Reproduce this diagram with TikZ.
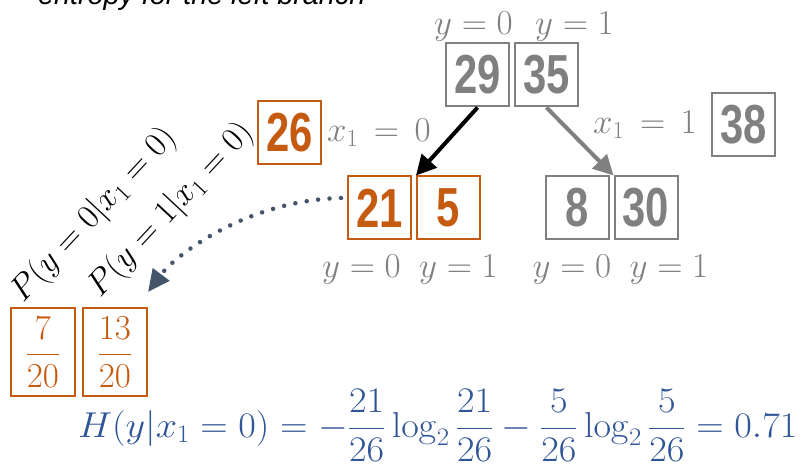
\documentclass[tikz,border=0pt]{standalone}
\usepackage{fix-cm}
\usepackage{amsmath}
\usepackage{graphicx}
\usepackage[no-math]{fontspec}
\newfontfamily\numfont[FakeStretch=0.76]{Liberation Sans}
\newfontfamily\capfont{Liberation Sans}
\usetikzlibrary{positioning,arrows.meta}
\definecolor{splitorange}{HTML}{C55A11}
\definecolor{splitgray}{HTML}{808080}
\definecolor{formulablue}{HTML}{2F5597}
\definecolor{dotslate}{HTML}{44546A}

\begin{document}
\begin{tikzpicture}[
    x=1pt, y=1pt,
    numbox/.style={rectangle, draw, line width=2pt, minimum size=63pt, inner sep=0pt, font={\fontsize{55}{60}\selectfont\numfont\bfseries}},
    leftbox/.style={numbox, draw=splitorange, text=splitorange},
    graybox/.style={numbox, draw=splitgray, text=splitgray},
    ylab/.style={inner sep=0pt, text=splitgray, font={\fontsize{35}{40}\selectfont}},
    probbox/.style={rectangle, draw=splitorange, text=splitorange, line width=2pt, minimum width=64pt, minimum height=88pt, inner sep=0pt, font={\fontsize{35}{40}\selectfont}},
    plab/.style={rotate=47, inner sep=0pt, font={\fontsize{34}{40}\selectfont}},
    splitarrow/.style={line width=4pt, -{Triangle[length=20pt,width=20pt]}},
    dotarrow/.style={dotslate, line width=4.5pt, line cap=round, dash pattern=on 0pt off 11.5pt, -{Triangle[length=22pt,width=20pt]}}
]
\useasboundingbox (0,0) rectangle (801,-465);
\clip (0,0) rectangle (801,-465);

% caption, cut at the top
\node (caption) [anchor=base west, inner sep=0pt, font={\fontsize{28.7}{32}\selectfont\capfont\itshape}] at (38,-5) {entropy for the left branch};

% root
\node (n29) [graybox] at (477.5,-75) {29};
\node (n35) [graybox, right=4pt of n29] {35};
\node (r0) [ylab, above=1pt of n29, xshift=-4pt] {$y=0$};
\node (r1) [ylab, above=1pt of n35, xshift=28pt] {$y=1$};

% left branch
\node (n26) [leftbox] at (289.5,-132.5) {26};
\node (bx0) [ylab, right=5pt of n26] {$x_1\,=\,0$};
\node (n21) [leftbox] at (379.5,-208) {21};
\node (n5) [leftbox, right=4pt of n21] {5};
\node (l0) [ylab, below=14pt of n21, xshift=-18pt] {$y=0$};
\node (l1) [ylab, below=14pt of n5, xshift=10pt] {$y=1$};

% right branch
\node (n38) [graybox] at (743.5,-124.5) {38};
\node (bx1) [ylab, left=14pt of n38] {$x_1\,=\,1$};
\node (n8) [graybox] at (577,-208) {8};
\node (n30) [graybox, right=4pt of n8] {30};
\node (g0) [ylab, below=14pt of n8, xshift=-5pt] {$y=0$};
\node (g1) [ylab, below=14pt of n30, xshift=23pt] {$y=1$};

% probabilities
\node (n7) [probbox] at (43,-352) {$\dfrac{7}{20}$};
\node (n13) [probbox, right=6pt of n7] {$\dfrac{13}{20}$};
\node (p0) [plab] at (94,-215) {$P(y=0|x_1=0)$};
\node (p1) [plab] at (171,-210) {$P(y=1|x_1=0)$};

% entropy
\node (entropy) [anchor=base west, inner sep=0pt, text=formulablue, font={\fontsize{36}{40}\selectfont}] at (78,-437)
  {\scalebox{1.06}[1]{$\displaystyle H(y|x_1=0)=-\frac{21}{26}\log_2\frac{21}{26}-\frac{5}{26}\log_2\frac{5}{26}=0.71$}};

% arrows
\draw [splitarrow, black] (n29.south) -- (n5.north west);
\draw [splitarrow, splitgray] (n35.south) -- (n30.north west);
\draw [dotarrow] ([xshift=-6pt,yshift=10pt]n21.west) .. controls +(-90,-2) and +(30,40) .. ([yshift=15pt]n13.north east);

\end{tikzpicture}
\end{document}
